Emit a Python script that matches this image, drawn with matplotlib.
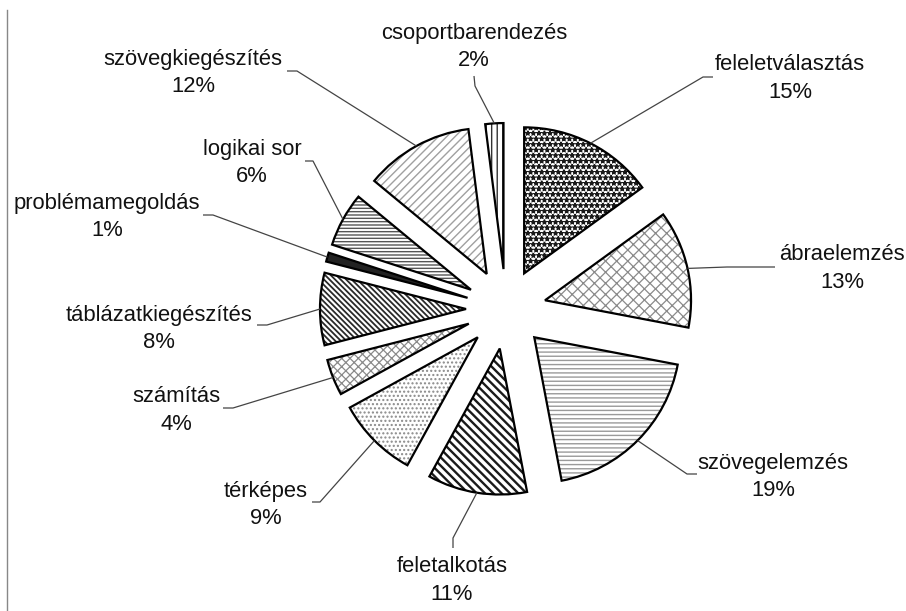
import numpy as np
import matplotlib
matplotlib.use("Agg")
import matplotlib.pyplot as plt

plt.rcParams['font.family'] = ['Liberation Sans', 'DejaVu Sans']

# ---- data ----
categories = ["feleletválasztás", "ábraelemzés", "szövegelemzés", "feletalkotás",
              "térképes", "számítás", "táblázatkiegészítés", "problémamegoldás",
              "logikai sor", "szövegkiegészítés", "csoportbarendezés"]
values = [15, 13, 19, 11, 9, 4, 8, 1, 6, 12, 2]

# ---- styles / layout (pixel coordinates, y measured from top) ----
W, H = 906, 611
CENTER = (506, 309)
RADIUS = 146
EXPLODE = 40
hatches = ["***", "xxx", "----", "\\\\\\\\", "....", "xxxx", "\\\\\\\\\\\\", "", "-----", "////", "|||"]
hatch_colors = ["#1a1a1a", "#8a8a8a", "#9a9a9a", "#1a1a1a", "#8a8a8a", "#8a8a8a",
                "#2a2a2a", "#222222", "#555555", "#a0a0a0", "#333333"]
hatch_lws = [1.0, 0.9, 1.0, 1.7, 1.0, 0.9, 1.3, 1.0, 1.0, 1.0, 1.0]
face_colors = ["white"] * 7 + ["#222222"] + ["white"] * 3
label_pos = [(790, 65), (842, 255), (773, 463), (452, 567), (266, 491), (176, 397),
             (159, 315), (107, 203), (252, 150), (193, 60), (474, 33)]
kinks = [(703, 77), (727, 267), (687, 474), (453, 538), (320, 502), (233, 408),
         (267, 325), (213, 215), (313, 161), (297, 71), (475, 86)]
ends = [(713, 77), (775, 267), (697, 474), (453, 548), (312, 502), (223, 408),
        (257, 325), (203, 215), (305, 161), (287, 71), (474, 76)]
LINE_GAP = 27
FS = 15.8


def fy(y):
    return H - y


fig = plt.figure(figsize=(W / 100, H / 100), dpi=100)
ax = fig.add_axes([0, 0, 1, 1])

center = (CENTER[0], fy(CENTER[1]))
explode = [EXPLODE] * len(values)

# hatched fills
wedges, _ = ax.pie(values, radius=RADIUS, center=center, explode=explode,
                   startangle=90, counterclock=False,
                   wedgeprops=dict(linewidth=0))
for w, h, hc, fc, hl in zip(wedges, hatches, hatch_colors, face_colors, hatch_lws):
    w.set_facecolor(fc)
    w.set_edgecolor(hc)
    w.set_hatch(h)
    w.set_linewidth(0)
    if hasattr(w, "set_hatch_linewidth"):
        w.set_hatch_linewidth(hl)

# outlines
outl, _ = ax.pie(values, radius=RADIUS, center=center, explode=explode,
                 startangle=90, counterclock=False,
                 wedgeprops=dict(fill=False, edgecolor="black", linewidth=1.6))

# labels and leader lines
for w, name, v, (lx, ly), k, e in zip(outl, categories, values, label_pos, kinks, ends):
    ang = np.deg2rad((w.theta1 + w.theta2) / 2)
    ax_, ay_ = w.center[0] + w.r * np.cos(ang), w.center[1] + w.r * np.sin(ang)
    ax.plot([ax_, k[0], e[0]], [ay_, fy(k[1]), fy(e[1])], color="#444444", lw=0.9,
            solid_capstyle="butt")
    ax.text(lx, fy(ly), name, ha="center", va="center", fontsize=FS, color="#111111")
    ax.text(lx, fy(ly + LINE_GAP), f"{v}%", ha="center", va="center", fontsize=FS,
            color="#111111")

ax.set_xlim(0, W)
ax.set_ylim(0, H)
ax.set_aspect("equal")
ax.axis("off")

# left border line
fig.add_artist(plt.Line2D([7 / W, 7 / W], [0, 1 - 10 / H], color="#888888", lw=1))

fig.savefig("out.png", dpi=100, facecolor="white")
